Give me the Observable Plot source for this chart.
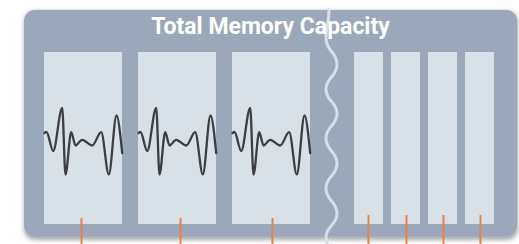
<!DOCTYPE html>
<html><head><meta charset="utf-8">
<script src="https://cdn.jsdelivr.net/npm/d3@7"></script>
<script src="https://cdn.jsdelivr.net/npm/@observablehq/plot@0.6"></script>
<style>html,body{margin:0;padding:0;background:#fff;overflow:hidden;} svg{display:block;}</style>
</head><body><div id="chart"></div>
<script>
const title = "Total Memory Capacity";
const frameBox = [{x1: 24, x2: 517, y1: 10, y2: 236}];
const largeBanks = [{x1: 44, x2: 122}, {x1: 138, x2: 216}, {x1: 232, x2: 310}];
const smallBanks = [{x1: 354, x2: 383}, {x1: 391, x2: 420}, {x1: 428, x2: 457}, {x1: 465, x2: 494}];
const bankTop = 52, bankBottom = 224;
// waveform extrema inside each large bank (offset from bank's left edge)
const waveDx = [0, 2, 8.7, 17.7, 21, 26.7, 31, 37.7, 47.7, 56.7, 64.3, 72, 77.7];
const waveY = [132.5, 131.5, 150.5, 107.3, 174, 131.7, 145, 139.3, 145, 131.7, 174, 115, 152.7];
// wavy break line extrema
const breakX = [328.5, 325.5, 336.5, 325.5, 336.5, 325.5, 336.5, 325.5, 336.5, 325.5, 336.5];
const breakY = [9, 38, 64, 89, 113, 138, 163, 188, 213, 237, 262];
// orange markers below each bank
const tickX = [81, 180, 272, 368, 406, 443, 480];
const tickTop = [218, 218, 218, 215, 215, 215, 215];

const waves = largeBanks.flatMap((b, i) => waveDx.map((dx, j) => ({bank: i, x: b.x1 + dx, y: waveY[j]})));
const breakLine = breakX.map((x, i) => ({x, y: breakY[i]}));
const ticks = tickX.map((x, i) => ({x, y1: tickTop[i], y2: 244}));

const chart = Plot.plot({
  width: 519, height: 244,
  margin: 0,
  x: {domain: [0, 519], range: [0, 519], axis: null},
  y: {domain: [0, 244], range: [0, 244], axis: null},
  style: {background: "#ffffff", fontFamily: "Roboto, sans-serif", overflow: "hidden"},
  marks: [
    Plot.rect(frameBox, {x1: "x1", x2: d => d.x2 + 1, y1: d => d.y1 + 1, y2: d => d.y2 + 4, fill: "#5d6673", fillOpacity: 0.55, rx: 11}),
    Plot.rect(frameBox, {x1: "x1", x2: "x2", y1: "y1", y2: "y2", fill: "#9aa8b9", rx: 11}),
    Plot.rect(largeBanks, {x1: "x1", x2: "x2", y1: () => bankTop, y2: () => bankBottom, fill: "#d9e1e8"}),
    Plot.rect(smallBanks, {x1: "x1", x2: "x2", y1: () => bankTop, y2: () => bankBottom, fill: "#d9e1e8"}),
    Plot.line(waves, {x: "x", y: "y", z: "bank", curve: "monotone-x", stroke: "#3c3e41", strokeWidth: 2.3}),
    Plot.line(breakLine, {x: "x", y: "y", curve: "bump-y", stroke: "#d8dfe7", strokeWidth: 3}),
    Plot.ruleX(ticks, {x: "x", y1: "y1", y2: "y2", stroke: "#e8804b", strokeWidth: 2}),
    Plot.text([title], {x: 270, y: 26.6, text: d => d, fill: "#ffffff", fontSize: 23, fontWeight: "bold"})
  ]
});
const svg = d3.select(chart);
const defs = svg.insert("defs", ":first-child");
defs.append("filter").attr("id", "blurShadow").attr("x", "-10%").attr("y", "-10%").attr("width", "120%").attr("height", "130%")
  .append("feGaussianBlur").attr("stdDeviation", 2.2);
svg.select("g[aria-label=rect]").attr("filter", "url(#blurShadow)");
document.getElementById("chart").appendChild(chart);
</script></body></html>
